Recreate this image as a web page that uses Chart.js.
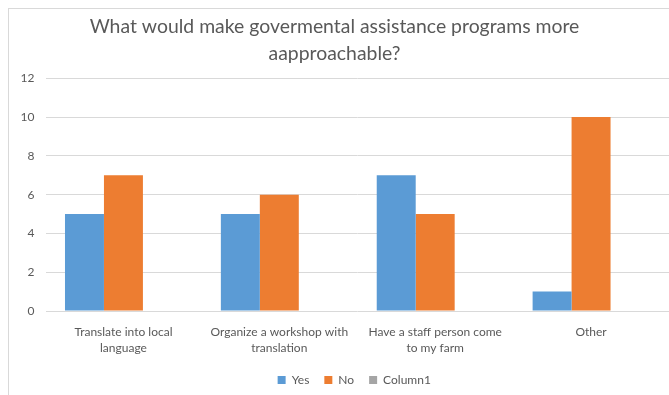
<!DOCTYPE html>
<html>
<head>
<meta charset="utf-8">
<script src="https://cdn.jsdelivr.net/npm/chart.js@4.4.0/dist/chart.umd.min.js"></script>
<style>
  html, body { margin: 0; padding: 0; background: #ffffff; }
  #wrap { position: relative; width: 669px; height: 395px; overflow: hidden; }
  #frame { position: absolute; left: 8px; top: 8px; width: 700px; height: 400px;
           border-left: 1px solid #d9d9d9; border-top: 1px solid #d9d9d9; }
  canvas { position: absolute; left: 0; top: 0; }
</style>
</head>
<body>
<div id="wrap">
  <div id="frame"></div>
  <canvas id="c" width="669" height="395"></canvas>
</div>
<script>
const titleLines = ["What would make govermental assistance programs more", "aapproachable?"];
const categories = [
  ["Translate into local", "language"],
  ["Organize a workshop with", "translation"],
  ["Have a staff person come", "to my farm"],
  ["Other"]
];
const yesValues = [5, 5, 7, 1];
const noValues = [7, 6, 5, 10];
const column1Values = [null, null, null, null];
const yTicks = { min: 0, max: 12, step: 2 };

const textColor = '#595959';
const fontFamily = 'Lato, "Open Sans", sans-serif';

// Excel centres the legend under the plot area rather than the whole chart
const legendShift = {
  id: 'legendShift',
  afterLayout(chart) {
    const lg = chart.legend;
    if (!lg) return;
    const plotCenter = (chart.chartArea.left + chart.chartArea.right) / 2 - 3;
    const boxCenter = (lg.left + lg.right) / 2;
    const d = plotCenter - boxCenter;
    lg.left += d; lg.right += d;
    lg.top += 1; lg.bottom += 1;
  }
};

new Chart(document.getElementById('c'), {
  type: 'bar',
  data: {
    labels: categories,
    datasets: [
      { label: 'Yes', data: yesValues, backgroundColor: '#5B9BD5', borderWidth: 0 },
      { label: 'No', data: noValues, backgroundColor: '#ED7D31', borderWidth: 0 },
      { label: 'Column1', data: column1Values, backgroundColor: '#A5A5A5', borderWidth: 0 }
    ]
  },
  plugins: [legendShift],
  options: {
    responsive: false,
    animation: false,
    devicePixelRatio: 1,
    layout: { padding: { left: 0, right: 0, top: 0, bottom: 0 } },
    datasets: { bar: { categoryPercentage: 0.75, barPercentage: 1.0 } },
    plugins: {
      title: {
        display: true,
        text: titleLines,
        color: textColor,
        font: { family: fontFamily, size: 19.4, weight: 'normal', lineHeight: 1.42 },
        padding: { top: 12.5, bottom: 10.7 }
      },
      legend: {
        display: true,
        position: 'bottom',
        labels: {
          color: textColor,
          font: { family: fontFamily, size: 12 },
          boxWidth: 8, boxHeight: 8, padding: 15
        }
      },
      tooltip: { enabled: false }
    },
    scales: {
      x: {
        grid: { display: false, drawTicks: false },
        border: { display: false },
        ticks: {
          color: textColor,
          font: { family: fontFamily, size: 12, lineHeight: 1.375 },
          padding: 12.5,
          maxRotation: 0, autoSkip: false
        },
        afterFit: (s) => { s.height = 47; }
      },
      y: {
        min: yTicks.min, max: yTicks.max,
        grid: { color: '#d9d9d9', lineWidth: 1, drawTicks: false },
        border: { display: false },
        ticks: {
          stepSize: yTicks.step,
          color: textColor,
          font: { family: fontFamily, size: 12 },
          padding: 11
        },
        afterFit: (s) => { s.width = 45.5; }
      }
    }
  }
});
</script>
</body>
</html>
